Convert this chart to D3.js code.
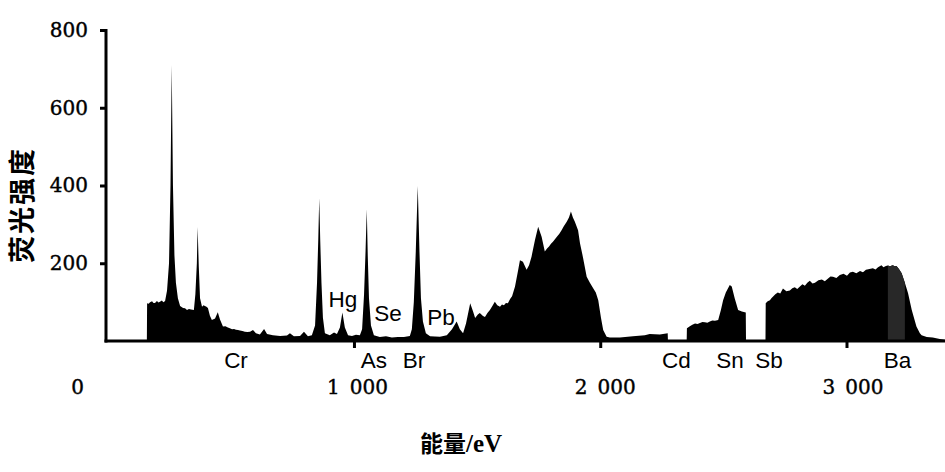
<!DOCTYPE html>
<html>
<head>
<meta charset="utf-8">
<script src="https://cdn.jsdelivr.net/npm/d3@7"></script>
<style>
  html, body { margin: 0; padding: 0; background: #fff; }
  svg { display: block; }
</style>
</head>
<body>
<svg id="chart" width="945" height="472"></svg>
<script>
// Spectrum: energy (eV) and fluorescence intensity
const energy = [
  0, 159, 160, 166, 172, 180, 186, 192, 200, 206, 212, 220, 226, 233, 241, 249, 255, 260, 265, 271, 277, 285, 294,
  306, 314, 322, 330, 338, 350, 356, 362, 365, 370, 375, 383, 389, 395, 401, 407, 415, 423, 436, 447,
  456, 468, 478, 488, 496, 505, 513, 521, 529, 537, 547, 557, 567, 578, 590, 602, 618, 635, 647, 671, 700, 728,
  740, 756, 781, 797, 813, 829, 842, 850, 855, 859, 863, 868, 874, 882, 902, 919,
  931, 943, 953, 963, 976, 992, 1008, 1024, 1033, 1041, 1047, 1052, 1056, 1061, 1069, 1081,
  1105, 1130, 1154, 1178, 1203, 1227, 1235, 1243, 1251, 1259, 1266, 1272, 1280, 1292, 1309, 1349,
  1377, 1398, 1417, 1430, 1443, 1455, 1472, 1484, 1492, 1503, 1511, 1524, 1532, 1542, 1552, 1562, 1572, 1582, 1593,
  1601, 1609, 1617, 1625, 1634, 1642, 1654, 1666, 1674, 1686, 1701, 1711, 1721, 1735, 1748, 1762, 1775, 1784, 1792, 1800, 1808,
  1816, 1824, 1834, 1843, 1852, 1864, 1873, 1881, 1889, 1897, 1910, 1918, 1930, 1945, 1958, 1972, 1982, 1992,
  2003, 2012, 2026, 2039, 2080, 2133, 2181, 2201, 2242, 2274, 2275, 2351, 2352, 2364, 2374, 2385, 2395, 2405,
  2415, 2425, 2435, 2445, 2455, 2466, 2479, 2490, 2499, 2510, 2526, 2534, 2546, 2560, 2575, 2591, 2592, 2671, 2672,
  2680, 2689, 2695, 2701, 2711, 2721, 2731, 2742, 2756, 2770, 2780, 2790, 2800, 2811, 2821, 2831, 2841, 2851, 2862, 2872,
  2886, 2900, 2912, 2924, 2935, 2945, 2959, 2973, 2988, 3002, 3014, 3026, 3040,
  3055, 3067, 3079, 3093, 3107, 3118, 3128, 3135, 3142, 3150, 3160, 3168, 3176, 3188, 3196, 3203, 3213, 3224, 3237, 3250, 3265, 3284, 3298,
  3305, 3326, 3350, 3379, 3400
];
const intensity = [
  0, 0, 97, 96, 100, 102, 98, 98, 103, 99, 101, 104, 100, 103, 130, 200, 400, 710, 400, 220, 150, 110, 90,
  85, 84, 80, 82, 81, 80, 120, 200, 293, 190, 110, 88, 92, 90, 88, 85, 65, 54, 58, 74,
  55, 37, 38, 35, 33, 30, 31, 29, 28, 27, 26, 24, 23, 24, 28, 20, 17, 31, 18, 15, 13, 14,
  20, 12, 13, 24, 12, 15, 40, 150, 260, 367, 260, 150, 60, 20, 15, 22,
  18, 35, 73, 35, 15, 13, 16, 15, 30, 120, 230, 339, 220, 110, 40, 15,
  10, 12, 9, 10, 10, 13, 30, 100, 230, 399, 230, 110, 50, 20, 12, 11,
  15, 30, 50, 30, 20, 45, 97, 75, 59, 68, 72, 64, 62, 72, 80, 90, 101, 92, 88,
  94, 92, 98, 97, 108, 115, 140, 180, 208, 204, 183, 195, 217, 260, 294, 268, 230, 238, 243, 250, 255,
  262, 268, 276, 285, 295, 307, 318, 333, 318, 307, 285, 251, 215, 165, 150, 135, 125, 105,
  60, 28, 11, 9, 9, 12, 15, 18, 17, 20, 0, 0, 33, 38, 42, 45, 44, 46,
  49, 48, 47, 50, 53, 52, 54, 80, 105, 125, 144, 140, 110, 80, 76, 73, 0, 0, 97,
  102, 105, 110, 114, 120, 125, 122, 135, 128, 130, 136, 138, 134, 140, 146, 142, 150, 155, 148, 150,
  156, 158, 154, 160, 166, 165, 162, 170, 173, 168, 176, 178, 174,
  180, 177, 183, 185, 187, 184, 190, 192, 195, 190, 193, 194, 192, 195, 192, 193, 185, 174, 150, 123, 80, 37, 20,
  15, 10, 9, 5, 3
];
// shaded band inside the Ba region (eV)
const shadeBand = [3168, 3245];

// Axis ticks
const yTicks = [200, 400, 600, 800];
const xTickValues = [0, 1000, 2000, 3000];
const xTickLabels = ["0", "1 000", "2 000", "3 000"];

// Element labels (name, energy position, intensity level for raised labels)
const elemNames = ["Cr", "As", "Br", "Cd", "Sn", "Sb", "Ba", "Hg", "Se", "Pb"];
const elemEnergy = [521, 1081, 1244, 2309, 2527, 2685, 3207, 955, 1138, 1353];
const elemLevel = [null, null, null, null, null, null, null, 87, 51, 41];

const yTitle = "荧光强度";
const xTitleMain = "能量";
const xTitleUnit = "/eV";

const svg = d3.select("#chart");
const x = d3.scaleLinear().domain([0, 3400]).range([107.7, 945]);
const y = d3.scaleLinear().domain([0, 800]).range([341, 30]);

const pts = energy.map((e, i) => ({ e, v: intensity[i] }));

const area = d3.area()
  .x(d => x(d.e))
  .y0(y(0))
  .y1(d => y(d.v));

svg.append("path")
  .datum(pts)
  .attr("d", area)
  .attr("fill", "#000");

// darker grey band
svg.append("path")
  .datum(pts.filter(d => d.e >= shadeBand[0] && d.e <= shadeBand[1]))
  .attr("d", area)
  .attr("fill", "#282828");

// Y axis
const yAxis = svg.append("g")
  .attr("transform", "translate(106,0)")
  .call(d3.axisLeft(y).tickValues(yTicks).tickSize(6).tickSizeOuter(0).tickPadding(12).tickFormat(d3.format("d")));
yAxis.select(".domain").attr("stroke", "#000").attr("stroke-width", 3)
  .attr("d", `M0,${y(800) - 1}V${y(0) + 1.5}`);
yAxis.selectAll(".tick line").attr("stroke", "#000").attr("stroke-width", 3);
yAxis.selectAll(".tick text")
  .attr("font-family", "'DejaVu Serif', 'Liberation Serif', serif")
  .attr("font-size", 20)
  .attr("fill", "#000")
  .attr("stroke", "#000")
  .attr("stroke-width", 0.4);

// X axis line and ticks (labels drawn separately)
const xAxis = svg.append("g")
  .attr("transform", `translate(0,${y(0)})`)
  .call(d3.axisBottom(x).tickValues(xTickValues.slice(1)).tickSize(7).tickSizeOuter(0).tickFormat(""));
xAxis.select(".domain").attr("stroke", "#000").attr("stroke-width", 3)
  .attr("d", `M104.5,0H945`);
xAxis.selectAll(".tick line").attr("stroke", "#000").attr("stroke-width", 3);

// X tick labels
svg.append("g").selectAll("text")
  .data(xTickValues)
  .join("text")
  .attr("x", (d, i) => x(d) + (i === 0 ? -30 : 2 + i * 1.5))
  .attr("y", 394)
  .attr("text-anchor", "middle")
  .attr("font-family", "'DejaVu Serif', 'Liberation Serif', serif")
  .attr("font-size", 20)
  .attr("fill", "#000")
  .attr("stroke", "#000")
  .attr("stroke-width", 0.4)
  .text((d, i) => xTickLabels[i].replace(" ", "\u2002"));

// Element labels
svg.append("g").selectAll("text")
  .data(elemNames)
  .join("text")
  .attr("x", (d, i) => x(elemEnergy[i]))
  .attr("y", (d, i) => elemLevel[i] == null ? 367.5 : y(elemLevel[i]))
  .attr("text-anchor", "middle")
  .attr("font-family", "'Liberation Sans', Arial, sans-serif")
  .attr("font-size", 22.5)
  .attr("fill", "#000")
  .text(d => d);

// Axis titles
svg.append("text")
  .attr("transform", "translate(32,205) rotate(-90)")
  .attr("text-anchor", "middle")
  .attr("font-family", "'Noto Sans CJK SC', sans-serif")
  .attr("font-weight", "bold")
  .attr("font-size", 27)
  .attr("letter-spacing", 2)
  .attr("fill", "#000")
  .text(yTitle);

const xt = svg.append("text")
  .attr("x", 461)
  .attr("y", 452)
  .attr("text-anchor", "middle")
  .attr("font-size", 23)
  .attr("fill", "#000");
xt.append("tspan")
  .attr("font-family", "'Noto Sans CJK SC', sans-serif")
  .attr("font-weight", "bold")
  .text(xTitleMain);
xt.append("tspan")
  .attr("font-family", "'Liberation Serif', serif")
  .attr("font-weight", "bold")
  .attr("font-size", 25)
  .text(xTitleUnit);
</script>
</body>
</html>
